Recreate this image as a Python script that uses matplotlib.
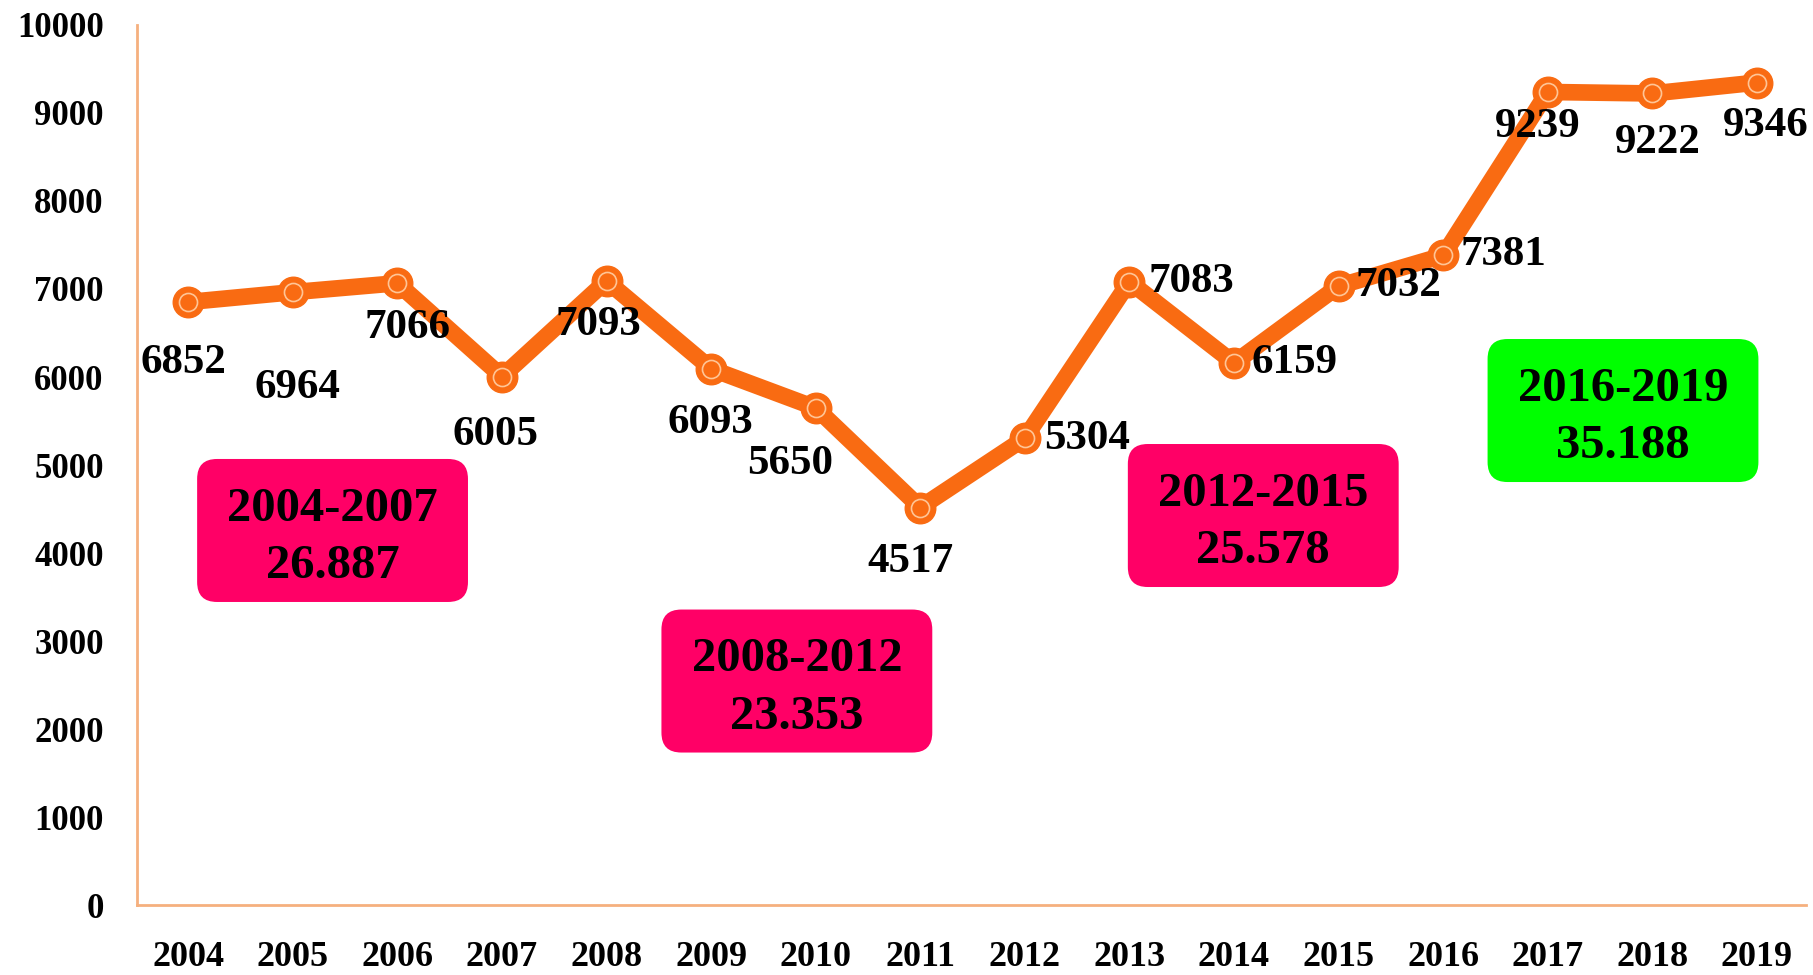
import matplotlib.pyplot as plt
from matplotlib.patches import FancyBboxPatch

years = ["2004", "2005", "2006", "2007", "2008", "2009", "2010", "2011",
         "2012", "2013", "2014", "2015", "2016", "2017", "2018", "2019"]
values = [6852, 6964, 7066, 6005, 7093, 6093, 5650, 4517,
          5304, 7083, 6159, 7032, 7381, 9239, 9222, 9346]

period_labels = ["2004-2007", "2008-2012", "2012-2015", "2016-2019"]
period_values = ["26.887", "23.353", "25.578", "35.188"]

# label offsets in pixels (dx right, dy down) from each point
label_offsets = [(-5, 61), (5, 96), (10, 45), (-6, 58), (-8, 44), (-1, 54),
                 (-26, 56), (-10, 54), (62, 1), (62, 0), (61, 0), (60, 0),
                 (60, 0), (-10, 35), (6, 50), (9, 43)]
# box centres (x index, y value) and colours
box_centres = [(1.38, 4256), (5.82, 2545), (10.28, 4426), (13.72, 5619)]
box_colors = ["#FF0066", "#FF0066", "#FF0066", "#00FF00"]

plt.rcParams['font.family'] = ['Liberation Serif', 'DejaVu Serif']
plt.rcParams['font.weight'] = 'bold'

orange = "#F96B12"
spine_col = "#F5B07E"

fig = plt.figure(figsize=(18.13, 9.75), dpi=100)
ax = fig.add_axes([137 / 1813, 1 - 905 / 975, (1806 - 137) / 1813, (905 - 25) / 975])

x = list(range(len(years)))
ax.plot(x, values, color=orange, linewidth=12, marker='o', markersize=22,
        markerfacecolor=orange, markeredgecolor=orange, solid_joinstyle='round',
        zorder=3)
ax.plot(x, values, linestyle='none', marker='o', markersize=13,
        markerfacecolor='none', markeredgecolor='#FFC596', markeredgewidth=1.2,
        zorder=4)

for xi, v, (dx, dy) in zip(x, values, label_offsets):
    ax.annotate(str(v), (xi, v), xytext=(dx * 0.72, -dy * 0.72),
                textcoords='offset points', ha='center', va='center',
                fontsize=31, fontweight='bold', zorder=5)

ax.set_xlim(-0.49, 15.47)
ax.set_ylim(0, 10000)
ax.set_xticks(x)
ax.set_xticklabels(years)
ax.set_yticks(range(0, 10001, 1000))
ax.tick_params(axis='y', length=0, pad=24, labelsize=25)
ax.tick_params(axis='x', length=0, pad=26, labelsize=26)
for lbl in ax.get_xticklabels() + ax.get_yticklabels():
    lbl.set_fontweight('bold')

for side in ['top', 'right']:
    ax.spines[side].set_visible(False)
for side in ['left', 'bottom']:
    ax.spines[side].set_color(spine_col)
    ax.spines[side].set_linewidth(2)

# rounded period boxes
box_w = 2.59
box_h = 1625
px_aspect = (10000 / 880) / (15.96 / 1669)
for (cx, cy), lab, val, col in zip(box_centres, period_labels, period_values, box_colors):
    patch = FancyBboxPatch((cx - box_w / 2, cy - box_h / 2), box_w, box_h,
                           boxstyle='round,pad=0,rounding_size=0.19',
                           mutation_aspect=px_aspect, facecolor=col,
                           edgecolor='none', zorder=2)
    ax.add_patch(patch)
    ax.text(cx, cy - 80, f"{lab}\n{val}", ha='center', va='center', fontsize=35,
            fontweight='bold', linespacing=1.4, zorder=6)

fig.savefig('out.png', dpi=100)
